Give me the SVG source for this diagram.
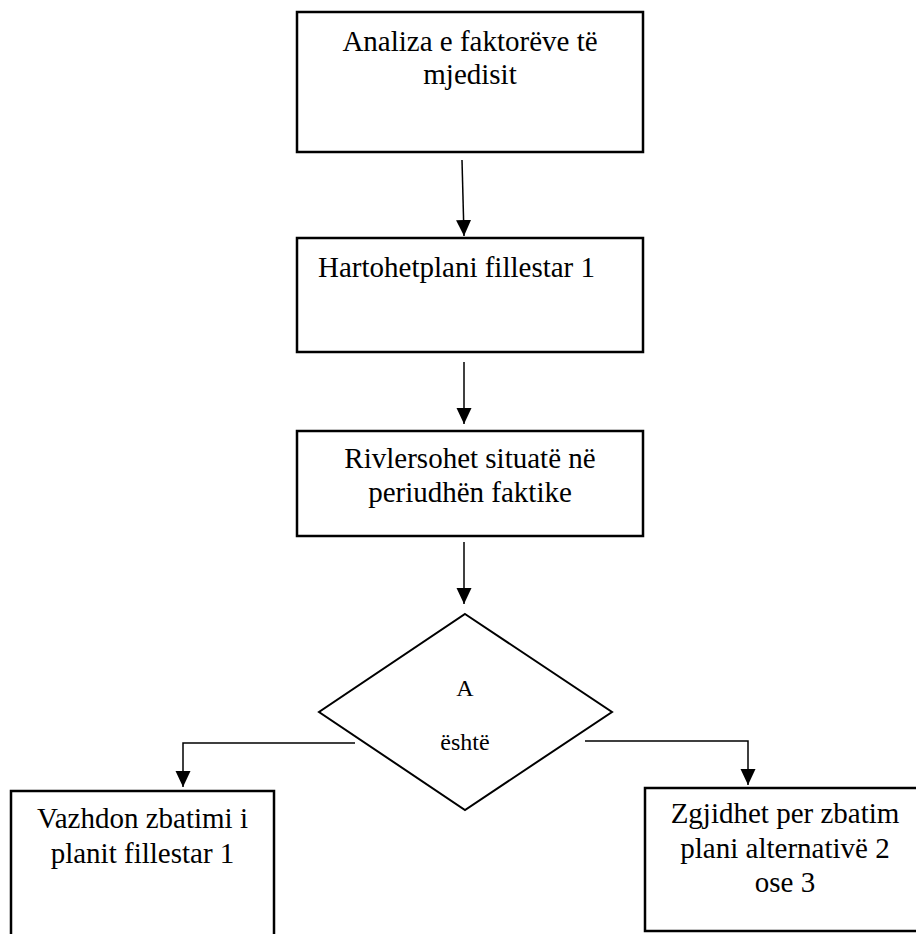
<svg xmlns="http://www.w3.org/2000/svg" width="916" height="934" viewBox="0 0 916 934">
  <style>
    .box { fill: #fff; stroke: #000; stroke-width: 2.5; }
    .dec { fill: #fff; stroke: #000; stroke-width: 2; }
    .lbl { font-family: "Liberation Serif", "Times New Roman", serif; font-size: 29px; fill: #000; }
    .mid { text-anchor: middle; }
    .small { font-size: 24px; }
    .wire { fill: none; stroke: #000; stroke-width: 1.5; }
  </style>
  <defs>
    <marker id="arrow" markerUnits="userSpaceOnUse" markerWidth="16" markerHeight="16" refX="16" refY="7.5" orient="auto">
      <path d="M0,0 L16,7.5 L0,15 z" fill="#000"/>
    </marker>
  </defs>
  <rect width="916" height="934" fill="#fff"/>

  <g id="connectors">
    <line class="wire" x1="462" y1="160" x2="464" y2="236" marker-end="url(#arrow)"/>
    <line class="wire" x1="464" y1="362" x2="464" y2="424" marker-end="url(#arrow)"/>
    <line class="wire" x1="464" y1="542" x2="464" y2="604" marker-end="url(#arrow)"/>
    <polyline class="wire" points="355,743 183,743 183,787" marker-end="url(#arrow)"/>
    <polyline class="wire" points="585,741 748,741 748,785" marker-end="url(#arrow)"/>
  </g>

  <g id="analiza">
    <rect class="box" x="297" y="12" width="346" height="140"/>
    <text class="lbl mid" x="470" y="51">Analiza e faktorëve të</text>
    <text class="lbl mid" x="470" y="84">mjedisit</text>
  </g>

  <g id="hartohet">
    <rect class="box" x="297" y="238" width="346" height="114"/>
    <text class="lbl" x="318" y="277">Hartohetplani fillestar 1</text>
  </g>

  <g id="rivlersohet">
    <rect class="box" x="297" y="431" width="346" height="105"/>
    <text class="lbl mid" x="470" y="468">Rivlersohet situatë në</text>
    <text class="lbl mid" x="470" y="502">periudhën faktike</text>
  </g>

  <g id="decision">
    <polygon class="dec" points="465,614 612,712 465,810 319,712"/>
    <text class="lbl small mid" x="465" y="696">A</text>
    <text class="lbl small mid" x="465" y="750">është</text>
  </g>

  <g id="vazhdon">
    <rect class="box" x="11" y="791" width="263" height="200"/>
    <text class="lbl mid" x="142.5" y="828">Vazhdon zbatimi i</text>
    <text class="lbl mid" x="142.5" y="863">planit fillestar 1</text>
  </g>

  <g id="zgjidhet">
    <rect class="box" x="645" y="788" width="290" height="143"/>
    <text class="lbl mid" x="785" y="823">Zgjidhet per zbatim</text>
    <text class="lbl mid" x="785" y="858">plani alternativë 2</text>
    <text class="lbl mid" x="785" y="892">ose 3</text>
  </g>
</svg>
